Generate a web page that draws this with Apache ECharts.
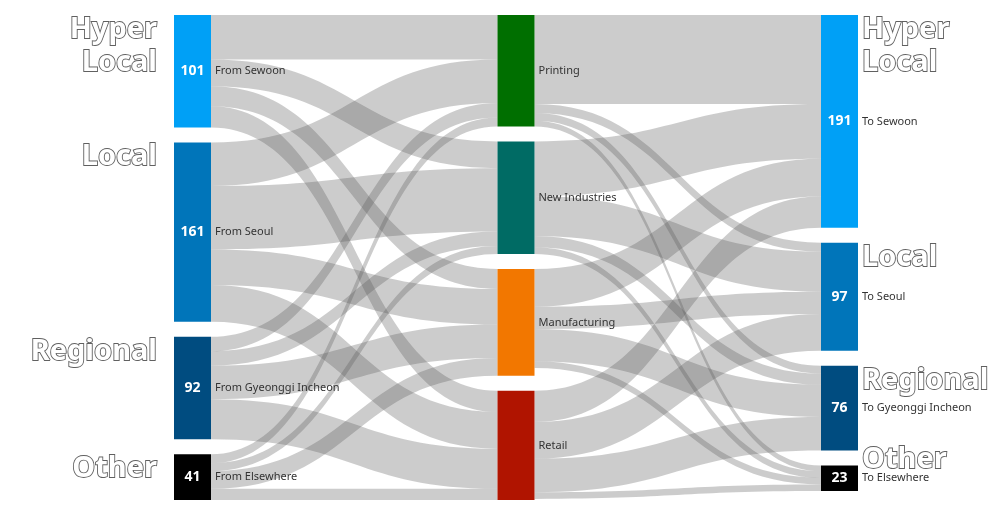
<!DOCTYPE html>
<html>
<head>
<meta charset="utf-8">
<script src="https://cdn.jsdelivr.net/npm/echarts@6/dist/echarts.min.js"></script>
<style>
  html, body { margin: 0; padding: 0; background: #fff; }
  #main { width: 1001px; height: 518px; }
</style>
</head>
<body>
<div id="main"></div>
<script>
// three columns of the flow
const origins = ['From Sewoon', 'From Seoul', 'From Gyeonggi Incheon', 'From Elsewhere'];
const sectors = ['Printing', 'New Industries', 'Manufacturing', 'Retail'];
const destinations = ['To Sewoon', 'To Seoul', 'To Gyeonggi Incheon', 'To Elsewhere'];
const originTotals = [101, 161, 92, 41];
const destTotals = [191, 97, 76, 23];
const scopeNames = ['Hyper\nLocal', 'Local', 'Regional', 'Other'];

// rows = origin, cols = sector
const originToSector = [
  [40, 24, 18, 19],
  [39, 57, 32, 33],
  [13, 13, 30, 36],
  [8, 7, 16, 10]
];
// rows = sector, cols = destination
const sectorToDest = [
  [80, 8, 7, 5],
  [49, 36, 10, 6],
  [34, 20, 29, 6],
  [28, 33, 30, 6]
];

const scopeColors = ['#00a0f6', '#0075ba', '#004c80', '#000000'];
const sectorColors = ['#006f00', '#006b64', '#f27700', '#b01400'];

const LEFT = 174, RIGHT = 143, TOP = 15, BOTTOM = 18, NODE_W = 37;

const chart = echarts.init(document.getElementById('main'));

const withValue = '{v|{c}}{n|{b}}';
const nameOnly = '{v| }{n|{b}}';

const nodes = [];
origins.forEach((name, i) => nodes.push({
  name, value: originTotals[i],
  itemStyle: { color: scopeColors[i] }, label: { formatter: withValue }
}));
sectors.forEach((name, i) => nodes.push({
  name,
  itemStyle: { color: sectorColors[i] }, label: { formatter: nameOnly }
}));
destinations.forEach((name, i) => nodes.push({
  name, value: destTotals[i],
  itemStyle: { color: scopeColors[i] }, label: { formatter: withValue }
}));

const links = [];
originToSector.forEach((row, i) => row.forEach((v, j) => {
  if (v > 0) links.push({ source: origins[i], target: sectors[j], value: v });
}));
sectorToDest.forEach((row, i) => row.forEach((v, j) => {
  if (v > 0) links.push({ source: sectors[i], target: destinations[j], value: v });
}));

chart.setOption({
  animation: false,
  series: [{
    type: 'sankey',
    left: LEFT, right: RIGHT, top: TOP, bottom: BOTTOM,
    nodeWidth: NODE_W,
    nodeGap: 15,
    layoutIterations: 0,
    draggable: false,
    emphasis: { disabled: true },
    itemStyle: { borderWidth: 0 },
    lineStyle: { color: '#555', opacity: 0.3, curveness: 0.5 },
    label: {
      show: true,
      position: 'insideLeft',
      distance: 0,
      rich: {
        v: { width: NODE_W, align: 'center', color: '#fff', fontSize: 14, fontWeight: 'bold', fontFamily: 'Noto Sans' },
        n: { color: '#333', fontSize: 11, fontFamily: 'Noto Sans', padding: [0, 0, 0, 4] }
      }
    },
    data: nodes,
    links: links
  }]
});

// big outlined scope labels next to the first and last column
const data = chart.getModel().getSeriesByIndex(0).getData();
const bigStyle = {
  fill: '#fff', stroke: '#606060', lineWidth: 1.8,
  fontSize: 29, fontWeight: 'bold', fontFamily: 'Noto Sans', lineHeight: 33
};
const graphics = [];
scopeNames.forEach((txt, i) => {
  const l = data.getItemLayout(i);
  graphics.push({
    type: 'text', silent: true,
    style: Object.assign({ text: txt, x: LEFT + l.x - 17, y: TOP + l.y - 2, align: 'right', verticalAlign: 'top' }, bigStyle)
  });
  const r = data.getItemLayout(8 + i);
  graphics.push({
    type: 'text', silent: true,
    style: Object.assign({
      text: txt, x: LEFT + r.x + r.dx + 4,
      y: Math.min(TOP + r.y - 2, TOP + r.y + r.dy - 48),
      align: 'left', verticalAlign: 'top'
    }, bigStyle)
  });
});
chart.setOption({ graphic: graphics });
</script>
</body>
</html>
